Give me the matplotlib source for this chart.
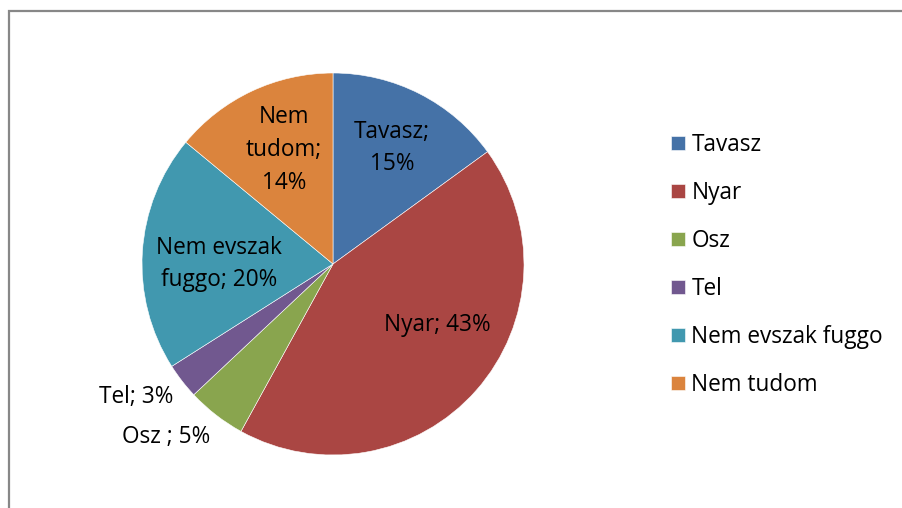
import matplotlib.pyplot as plt
from matplotlib.patches import Rectangle

plt.rcParams["font.family"] = ["Open Sans", "DejaVu Sans"]

# data
categories = ["Tavasz", "Nyar", "Osz", "Tel", "Nem evszak fuggo", "Nem tudom"]
shares = [15, 43, 5, 3, 20, 14]
label_texts = ["Tavasz;\n15%", "Nyar; 43%", "Osz ; 5%", "Tel; 3%",
               "Nem evszak\nfuggo; 20%", "Nem\ntudom;\n14%"]
colors = ["#4572A7", "#AA4643", "#89A54E", "#71588F", "#4198AF", "#DB843D"]

# label centres in pie units (radius = 1)
label_pos = [(0.31, 0.607), (0.545, -0.319), (-0.874, -0.906),
             (-1.031, -0.696), (-0.597, 0.0), (-0.256, 0.597)]

W, H = 902, 508
CX, CY, R = 333, 264, 191
FS = 16.3

fig = plt.figure(figsize=(W / 100, H / 100), dpi=100)

# chart-area border (grey, runs off the right and bottom edges)
fig.patches.append(Rectangle((8.5 / W, -0.1), 1.2, 1 - 11.5 / H + 0.1,
                             transform=fig.transFigure, fill=False,
                             edgecolor="#878787", linewidth=1.6))

ax = fig.add_axes([(CX - R) / W, (H - CY - R) / H, 2 * R / W, 2 * R / H])
wedges, _ = ax.pie(shares, colors=colors, startangle=90, counterclock=False,
                   radius=1, wedgeprops=dict(edgecolor="white", linewidth=0.4))
ax.set_xlim(-1, 1)
ax.set_ylim(-1, 1)
ax.set_aspect("equal")
ax.axis("off")

for txt, (x, y) in zip(label_texts, label_pos):
    ax.text(x, y, txt, ha="center", va="center", fontsize=FS,
            color="black", linespacing=1.48, clip_on=False)

leg = fig.legend(wedges, categories, loc="upper left",
                 bbox_to_anchor=(671 / W, 1 - 133 / H), frameon=False,
                 fontsize=FS, handlelength=0.62, handleheight=0.62,
                 handletextpad=0.28, labelspacing=1.06, borderpad=0,
                 borderaxespad=0)

fig.savefig("out.png", dpi=100)
